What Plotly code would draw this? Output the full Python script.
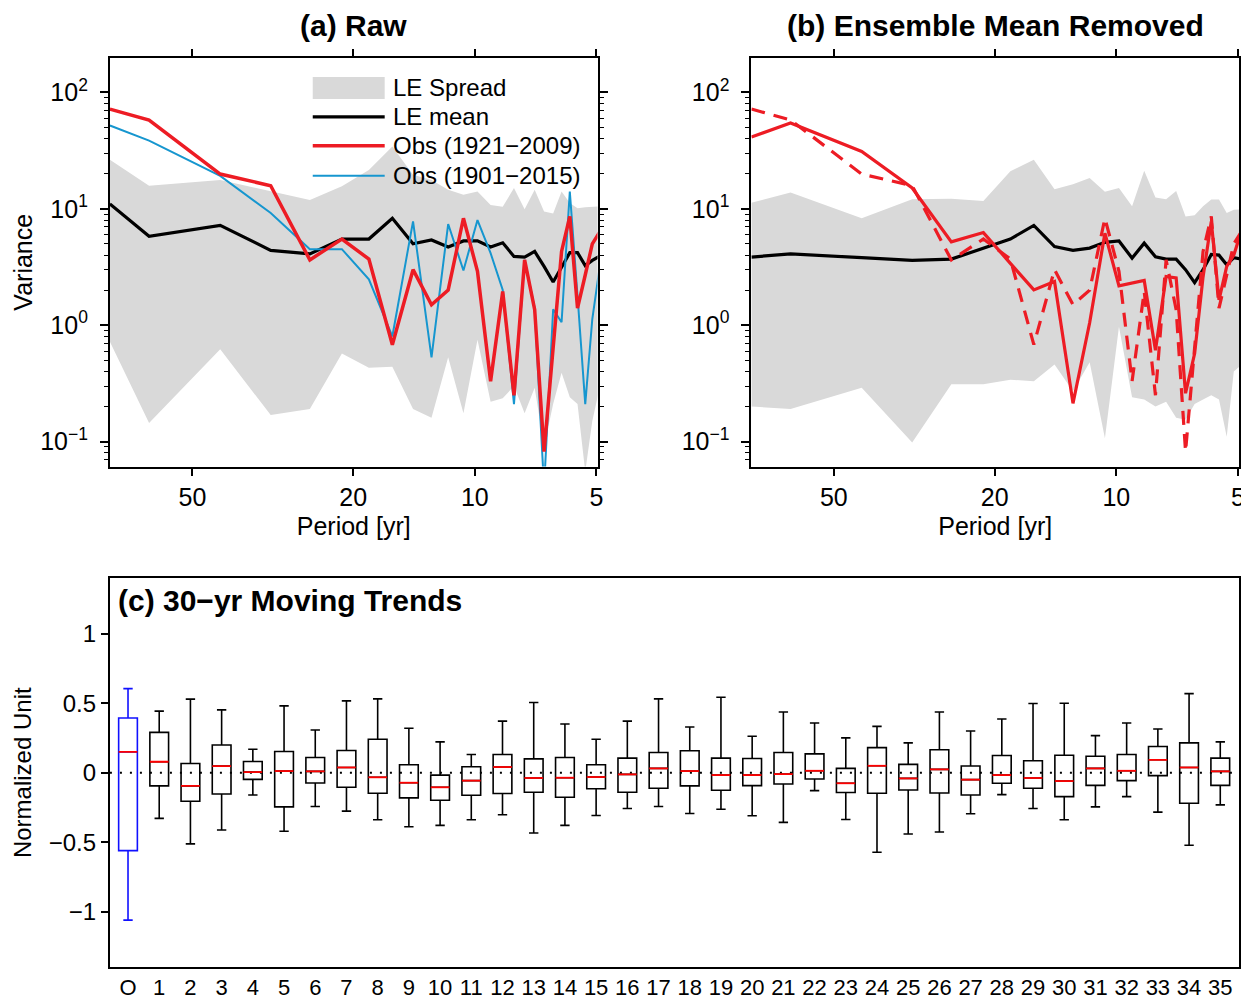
import math
import plotly.graph_objects as go

# ---------------- data ----------------
periods = [80, 64, 42.67, 32, 25.6, 21.33, 18.29, 16, 14.22, 12.8, 11.64, 10.67, 9.85,
           9.14, 8.53, 8.0, 7.53, 7.11, 6.74, 6.4, 6.1, 5.82, 5.57, 5.33, 5.12, 4.92]

# panel (a) raw
a_le_mean = [11.0, 5.8, 7.2, 4.4, 4.1, 5.5, 5.5, 8.3, 5.0, 5.4, 4.7, 5.3, 5.3,
             4.7, 5.1, 3.9, 3.85, 4.3, 3.2, 2.35, 3.15, 4.2, 4.2, 3.25, 3.6, 3.9]
a_spread_hi = [26.4, 15.8, 17.7, 14.1, 11.9, 15.6, 21.6, 34.3, 19.6, 17.7, 14.6, 13.2, 14.1,
               10.8, 10.4, 15.1, 9.9, 14.6, 9.5, 9.1, 14.1, 11.2, 10.1, 10.3, 10.4, 10.5]
a_spread_lo = [0.72, 0.144, 0.62, 0.169, 0.19, 0.57, 0.43, 0.44, 0.19, 0.16, 0.53, 0.175, 0.75,
               0.22, 0.235, 0.30, 0.175, 0.29, 0.09, 0.21, 0.39, 0.24, 0.21, 0.055, 0.15, 0.28]
obs_1921_2009 = [72, 58, 19.9, 15.8, 3.64, 5.5, 3.7, 0.68, 3.0, 1.5, 2.0, 8.3, 2.9,
                 0.33, 1.95, 0.25, 3.64, 1.36, 0.082, 0.7, 4.3, 8.6, 1.4, 2.7, 5.0, 6.25]
obs_1901_2015 = [52, 38.6, 19.2, 9.2, 4.5, 4.5, 2.48, 0.8, 7.8, 0.53, 7.4, 2.95, 8.0,
                 4.16, 2.01, 0.21, 3.64, 1.4, 0.04, 1.37, 1.06, 14.1, 1.79, 0.21, 1.13, 2.99]

# panel (b) ensemble mean removed
b_le_mean = [3.85, 4.1, 3.8, 3.6, 3.7, 4.6, 5.5, 7.2, 4.74, 4.4, 4.6, 5.15, 5.3,
             3.77, 5.07, 3.87, 3.7, 3.7, 3.0, 2.32, 3.0, 4.05, 4.0, 3.3, 3.8, 3.7]
b_spread_hi = [11.3, 13.8, 8.3, 12.1, 12.2, 11.7, 21.0, 26.4, 14.7, 16.3, 18.4, 14.0, 15.1,
               10.5, 21.2, 12.5, 12.1, 14.2, 8.6, 8.8, 10.5, 12.0, 12.0, 9.2, 9.8, 9.9]
b_spread_lo = [0.2, 0.19, 0.29, 0.098, 0.31, 0.31, 0.34, 0.33, 0.46, 0.27, 0.48, 0.107, 0.97,
               0.24, 0.23, 0.2, 0.22, 0.16, 0.154, 0.21, 0.23, 0.25, 0.23, 0.11, 0.40, 0.45]
b_obs_1921_2009 = [41.4, 54.6, 31.1, 15.1, 5.2, 6.25, 3.4, 2.01, 2.37, 0.213, 1.05, 6.17, 2.18,
                   2.3, 2.42, 0.61, 2.62, 2.55, 0.26, 0.57, 2.6, 7.8, 1.65, 3.2, 4.0, 6.2]

# panel (c) box statistics
box_labels = ["O"] + [str(i) for i in range(1, 36)]
box_upper = [0.606, 0.444, 0.530, 0.453, 0.169, 0.482, 0.308, 0.518, 0.532, 0.320, 0.222, 0.131,
             0.372, 0.506, 0.351, 0.241, 0.372, 0.532, 0.329, 0.544, 0.263, 0.437, 0.358, 0.251,
             0.334, 0.215, 0.437, 0.301, 0.387, 0.499, 0.501, 0.267, 0.358, 0.315, 0.570, 0.222]
box_q3 = [0.394, 0.291, 0.067, 0.200, 0.081, 0.153, 0.110, 0.160, 0.241, 0.057, -0.017, 0.043,
          0.131, 0.100, 0.110, 0.057, 0.105, 0.146, 0.158, 0.105, 0.103, 0.146, 0.136, 0.031,
          0.181, 0.060, 0.165, 0.048, 0.124, 0.086, 0.126, 0.119, 0.131, 0.189, 0.215, 0.105]
box_median = [0.150, 0.079, -0.095, 0.048, 0.005, 0.012, 0.010, 0.038, -0.033, -0.072, -0.105, -0.057,
              0.041, -0.038, -0.036, -0.031, -0.012, 0.031, 0.012, -0.017, -0.017, -0.010, 0.014, -0.076,
              0.050, -0.041, 0.024, -0.050, -0.017, -0.038, -0.060, 0.031, 0.014, 0.093, 0.038, 0.010]
box_q1 = [-0.561, -0.095, -0.205, -0.153, -0.048, -0.246, -0.074, -0.105, -0.148, -0.181, -0.198, -0.162,
          -0.150, -0.141, -0.177, -0.115, -0.141, -0.112, -0.095, -0.126, -0.093, -0.081, -0.045, -0.143,
          -0.148, -0.124, -0.146, -0.160, -0.076, -0.112, -0.172, -0.091, -0.057, -0.021, -0.220, -0.091]
box_lower = [-1.062, -0.329, -0.513, -0.413, -0.160, -0.422, -0.243, -0.277, -0.339, -0.389, -0.379, -0.339,
             -0.303, -0.434, -0.379, -0.308, -0.258, -0.243, -0.294, -0.263, -0.310, -0.358, -0.129, -0.337,
             -0.573, -0.442, -0.427, -0.296, -0.158, -0.258, -0.339, -0.246, -0.172, -0.284, -0.523, -0.232]

# ---------------- style ----------------
REF_W, REF_H = 1241, 998          # reference pixel frame used for placement fractions
W, H = 1249, 1000                 # rendered figure size
RED = "#ed1c24"
BLUE = "#1696cf"
GRAY = "#d9d9d9"
FONT = "Liberation Sans, Arial, sans-serif"


def px(x):
    return x / REF_W


def py(y):
    return 1 - y / REF_H


fig = go.Figure()


def spectrum_panel(xa, ya, lo, hi, mean):
    fig.add_trace(go.Scatter(x=periods, y=lo, mode="lines", line=dict(width=0, color=GRAY),
                             showlegend=False, hoverinfo="skip", xaxis=xa, yaxis=ya))
    fig.add_trace(go.Scatter(x=periods, y=hi, mode="lines", line=dict(width=0, color=GRAY),
                             fill="tonexty", fillcolor=GRAY, showlegend=False,
                             hoverinfo="skip", xaxis=xa, yaxis=ya))
    fig.add_trace(go.Scatter(x=periods, y=mean, mode="lines", line=dict(width=3.2, color="black"),
                             showlegend=False, xaxis=xa, yaxis=ya))


# panel a
spectrum_panel("x", "y", a_spread_lo, a_spread_hi, a_le_mean)
fig.add_trace(go.Scatter(x=periods, y=obs_1901_2015, mode="lines", line=dict(width=2, color=BLUE),
                         showlegend=False, xaxis="x", yaxis="y"))
fig.add_trace(go.Scatter(x=periods, y=obs_1921_2009, mode="lines", line=dict(width=3.5, color=RED),
                         showlegend=False, xaxis="x", yaxis="y"))

# panel b
spectrum_panel("x2", "y2", b_spread_lo, b_spread_hi, b_le_mean)
fig.add_trace(go.Scatter(x=periods, y=obs_1921_2009, mode="lines",
                         line=dict(width=3.2, color=RED, dash="14px,9px"),
                         showlegend=False, xaxis="x2", yaxis="y2"))
fig.add_trace(go.Scatter(x=periods, y=b_obs_1921_2009, mode="lines", line=dict(width=3.2, color=RED),
                         showlegend=False, xaxis="x2", yaxis="y2"))

# panel c boxes
xpos = list(range(len(box_labels)))
BOXW = 0.6
fig.add_trace(go.Box(x=xpos[:1], q1=box_q1[:1], median=box_median[:1], q3=box_q3[:1],
                     lowerfence=box_lower[:1], upperfence=box_upper[:1], width=BOXW,
                     whiskerwidth=0.5, line=dict(color="#1010ff", width=1.6),
                     fillcolor="rgba(0,0,0,0)", boxpoints=False, showlegend=False,
                     xaxis="x3", yaxis="y3"))
fig.add_trace(go.Box(x=xpos[1:], q1=box_q1[1:], median=box_median[1:], q3=box_q3[1:],
                     lowerfence=box_lower[1:], upperfence=box_upper[1:], width=BOXW,
                     whiskerwidth=0.5, line=dict(color="black", width=1.6),
                     fillcolor="rgba(0,0,0,0)", boxpoints=False, showlegend=False,
                     xaxis="x3", yaxis="y3"))
mx, my = [], []
for xi, m in zip(xpos, box_median):
    mx += [xi - BOXW / 2, xi + BOXW / 2, None]
    my += [m, m, None]
fig.add_trace(go.Scatter(x=mx, y=my, mode="lines", line=dict(color="#ff0000", width=1.8),
                         showlegend=False, hoverinfo="skip", xaxis="x3", yaxis="y3"))

# ---------------- axes ----------------
minor_vals = [m * 10 ** e for e in range(-2, 3) for m in range(2, 10)]
common_x = dict(type="log", range=[math.log10(80), math.log10(4.97)],
                tickvals=[50, 20, 10, 5], ticktext=["50", "20", "10", "5"],
                ticks="outside", ticklen=7, tickwidth=1.5, tickcolor="black",
                mirror="ticks", showline=True, linecolor="black", linewidth=2,
                showgrid=False, zeroline=False, tickfont=dict(size=25, color="black"),
                title=dict(text="Period [yr]", font=dict(size=25, color="black"), standoff=8))
common_y = dict(type="log", range=[math.log10(0.061), math.log10(198)],
                tickvals=[0.1, 1, 10, 100],
                ticktext=["10<sup>−1</sup>", "10<sup>0</sup>", "10<sup>1</sup>", "10<sup>2</sup>"],
                ticks="outside", ticklen=8, tickwidth=1.5, tickcolor="black",
                ticklabelstandoff=7,
                minor=dict(tickvals=minor_vals, ticks="outside", ticklen=4, tickcolor="black",
                           tickwidth=1, showgrid=False),
                mirror="ticks", showline=True, linecolor="black", linewidth=2,
                showgrid=False, zeroline=False, tickfont=dict(size=25, color="black"))

fig.update_layout(
    xaxis=dict(domain=[px(110), px(598)], anchor="y", **common_x),
    yaxis=dict(domain=[py(467), py(58)], anchor="x",
               title=dict(text="Variance", font=dict(size=25, color="black"), standoff=0),
               **common_y),
    xaxis2=dict(domain=[px(752), px(1240)], anchor="y2", **common_x),
    yaxis2=dict(domain=[py(467), py(58)], anchor="x2", **common_y),
    xaxis3=dict(domain=[px(110), px(1240)], anchor="y3", range=[-0.58, 35.6],
                tickvals=xpos, ticktext=box_labels, ticks="", showline=True, mirror=True,
                linecolor="black", linewidth=2, showgrid=False, zeroline=False,
                tickfont=dict(size=22, color="black")),
    yaxis3=dict(domain=[py(968), py(579)], anchor="x3", range=[-1.4, 1.4],
                tickvals=[-1, -0.5, 0, 0.5, 1], ticktext=["−1", "−0.5", "0", "0.5", "1"],
                ticks="outside", ticklen=7, tickwidth=1.5, tickcolor="black",
                showline=True, mirror=True, linecolor="black", linewidth=2,
                showgrid=False, zeroline=False, tickfont=dict(size=24, color="black"),
                title=dict(text="Normalized Unit", font=dict(size=24, color="black"), standoff=10)),
    boxmode="overlay",
    width=W, height=H, autosize=False,
    margin=dict(l=0, r=0, t=0, b=0),
    paper_bgcolor="white", plot_bgcolor="white",
    font=dict(family=FONT, color="black"),
    showlegend=False,
)

# zero line in panel c
fig.add_shape(type="line", xref="x3 domain", yref="y3", x0=0, x1=1, y0=0, y1=0,
              line=dict(color="black", width=2, dash="2px,8px"), layer="below")

# titles
fig.add_annotation(text="<b>(a) Raw</b>", x=px(354), y=py(26), xref="paper", yref="paper",
                   showarrow=False, font=dict(size=30), xanchor="center", yanchor="middle")
fig.add_annotation(text="<b>(b) Ensemble Mean Removed</b>", x=px(996), y=py(26), xref="paper",
                   yref="paper", showarrow=False, font=dict(size=30), xanchor="center",
                   yanchor="middle")
fig.add_annotation(text="<b>(c) 30−yr Moving Trends</b>", x=px(116), y=py(601), xref="paper",
                   yref="paper", showarrow=False, font=dict(size=30), xanchor="left",
                   yanchor="middle")

# legend (panel a), drawn as key shapes + labels
leg_rows = [("LE Spread", 88), ("LE mean", 117), ("Obs (1921−2009)", 146), ("Obs (1901−2015)", 176)]
fig.add_shape(type="rect", xref="paper", yref="paper", x0=px(313), x1=px(385), y0=py(99), y1=py(77),
              fillcolor=GRAY, line=dict(width=0))
for (lab, yy), col, lw in zip(leg_rows[1:], ["black", RED, BLUE], [3.2, 3.5, 2]):
    fig.add_shape(type="line", xref="paper", yref="paper", x0=px(313), x1=px(385), y0=py(yy),
                  y1=py(yy), line=dict(color=col, width=lw))
for lab, yy in leg_rows:
    fig.add_annotation(text=lab, x=px(391), y=py(yy), xref="paper", yref="paper", showarrow=False,
                       font=dict(size=24), xanchor="left", yanchor="middle")

pin = ("var d=document.getElementById('{plot_id}');"
       "d.style.position='fixed';d.style.left='0px';d.style.top='0px';"
       "document.body.style.margin='0';document.body.style.overflow='hidden';"
       "document.documentElement.style.overflow='hidden';")
fig.write_html("out.html", config={"responsive": False, "displayModeBar": False},
               post_script=pin)
